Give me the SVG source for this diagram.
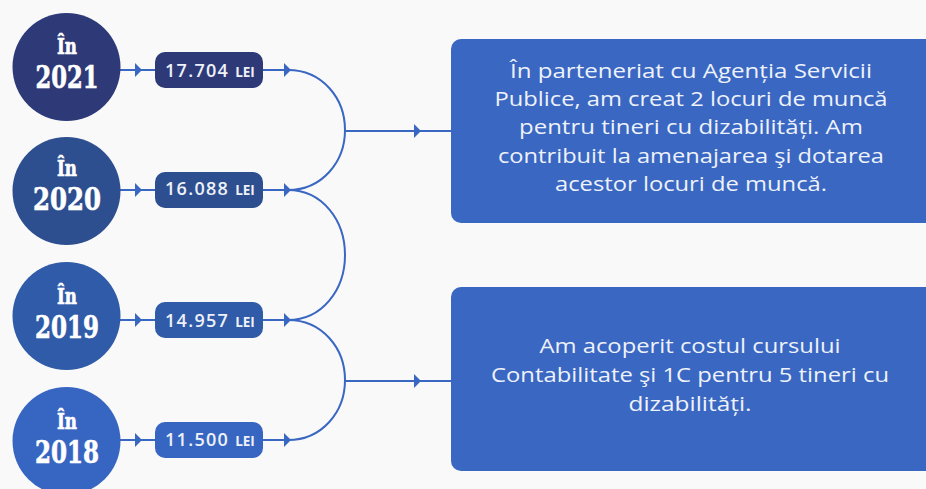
<svg xmlns="http://www.w3.org/2000/svg" width="926" height="489" viewBox="0 0 926 489">
<style>
.yr{font-family:"DejaVu Serif Condensed","DejaVu Serif",serif;font-weight:700;fill:#fff;text-anchor:middle;stroke:#fff;stroke-width:.6}
.y1{font-size:22px}
.y2{font-size:31px}
.num{font-family:"Open Sans","Noto Sans",sans-serif;font-weight:600;fill:#eef1f8;font-size:18px;letter-spacing:1.3px}
.lei{font-size:13.5px;font-weight:700;letter-spacing:0}
.box{fill:#3a67c2}
.txt{font-family:"Open Sans","Noto Sans",sans-serif;fill:#eef2fa;font-size:20.5px;text-anchor:middle}
.ln{fill:none;stroke:#3a67c2;stroke-width:2}
.ah{fill:#3a67c2}
</style>
<defs><marker id="ar" markerWidth="8" markerHeight="14" refX="6" refY="7" orient="auto" markerUnits="userSpaceOnUse"><path class="ah" d="M0 0L7 7L0 14Z"/></marker></defs>
<rect width="926" height="489" fill="#f9f9f9"/>
<g id="connectors">
<path class="ln" d="M120 70H141" marker-end="url(#ar)"/><path class="ln" d="M141 70H155"/>
<path class="ln" d="M120 190H141" marker-end="url(#ar)"/><path class="ln" d="M141 190H155"/>
<path class="ln" d="M120 320H141" marker-end="url(#ar)"/><path class="ln" d="M141 320H155"/>
<path class="ln" d="M120 440H141" marker-end="url(#ar)"/><path class="ln" d="M141 440H155"/>
<path class="ln" d="M263 70H290" marker-end="url(#ar)"/>
<path class="ln" d="M263 190H290" marker-end="url(#ar)"/>
<path class="ln" d="M263 320H290" marker-end="url(#ar)"/>
<path class="ln" d="M263 440H290" marker-end="url(#ar)"/>
<path class="ln" d="M288 70C322 70 345 98 345 130C345 162 322 190 288 190"/>
<path class="ln" d="M288 190C322 190 345 220 345 255C345 290 322 320 288 320"/>
<path class="ln" d="M288 320C322 320 345 348 345 380C345 412 322 440 288 440"/>
<path class="ln" d="M345 131H420" marker-end="url(#ar)"/><path class="ln" d="M420 131H451"/>
<path class="ln" d="M345 381H420" marker-end="url(#ar)"/><path class="ln" d="M420 381H451"/>
</g>
<g id="year-2021"><circle cx="66.500" cy="67" r="54" fill="#2e3a78"/><text class="yr y1" x="67" y="54" textLength="20" lengthAdjust="spacingAndGlyphs">În</text><text class="yr y2" x="67" y="88" textLength="63" lengthAdjust="spacingAndGlyphs">2021</text></g>
<g id="year-2020"><circle cx="66.500" cy="191" r="54" fill="#2d4f8f"/><text class="yr y1" x="67" y="176" textLength="20" lengthAdjust="spacingAndGlyphs">În</text><text class="yr y2" x="67" y="210" textLength="68" lengthAdjust="spacingAndGlyphs">2020</text></g>
<g id="year-2019"><circle cx="66.500" cy="316" r="54" fill="#2f5ba8"/><text class="yr y1" x="67" y="304" textLength="20" lengthAdjust="spacingAndGlyphs">În</text><text class="yr y2" x="67" y="338" textLength="64" lengthAdjust="spacingAndGlyphs">2019</text></g>
<g id="year-2018"><circle cx="66.500" cy="441" r="54" fill="#3766c2"/><text class="yr y1" x="67" y="429" textLength="20" lengthAdjust="spacingAndGlyphs">În</text><text class="yr y2" x="67" y="463" textLength="64" lengthAdjust="spacingAndGlyphs">2018</text></g>
<g id="val-2021"><rect x="155" y="52" width="108" height="36" rx="10" fill="#2e3a78"/><text class="num" x="165" y="77">17.704 <tspan class="lei">LEI</tspan></text></g>
<g id="val-2020"><rect x="155" y="172" width="108" height="36" rx="10" fill="#2d4f8f"/><text class="num" x="165" y="195">16.088 <tspan class="lei">LEI</tspan></text></g>
<g id="val-2019"><rect x="155" y="302" width="108" height="36" rx="10" fill="#2f5ba8"/><text class="num" x="165" y="327">14.957 <tspan class="lei">LEI</tspan></text></g>
<g id="val-2018"><rect x="155" y="422" width="108" height="36" rx="10" fill="#3766c2"/><text class="num" x="165" y="446">11.500 <tspan class="lei">LEI</tspan></text></g>
<g id="box-1"><rect class="box" x="451" y="39" width="490" height="184" rx="10"/>
<text class="txt" x="691" y="78" textLength="362" lengthAdjust="spacingAndGlyphs">În parteneriat cu Agenția Servicii</text>
<text class="txt" x="691" y="106" textLength="393" lengthAdjust="spacingAndGlyphs">Publice, am creat 2 locuri de muncă</text>
<text class="txt" x="691" y="134" textLength="344" lengthAdjust="spacingAndGlyphs">pentru tineri cu dizabilități. Am</text>
<text class="txt" x="691" y="163" textLength="386" lengthAdjust="spacingAndGlyphs">contribuit la amenajarea şi dotarea</text>
<text class="txt" x="691" y="191" textLength="272" lengthAdjust="spacingAndGlyphs">acestor locuri de muncă.</text></g>
<g id="box-2"><rect class="box" x="451" y="287" width="490" height="184" rx="10"/>
<text class="txt" x="690" y="353" textLength="301" lengthAdjust="spacingAndGlyphs">Am acoperit costul cursului</text>
<text class="txt" x="690" y="382" textLength="398" lengthAdjust="spacingAndGlyphs">Contabilitate şi 1C pentru 5 tineri cu</text>
<text class="txt" x="690" y="411" textLength="123" lengthAdjust="spacingAndGlyphs">dizabilități.</text></g>
</svg>
